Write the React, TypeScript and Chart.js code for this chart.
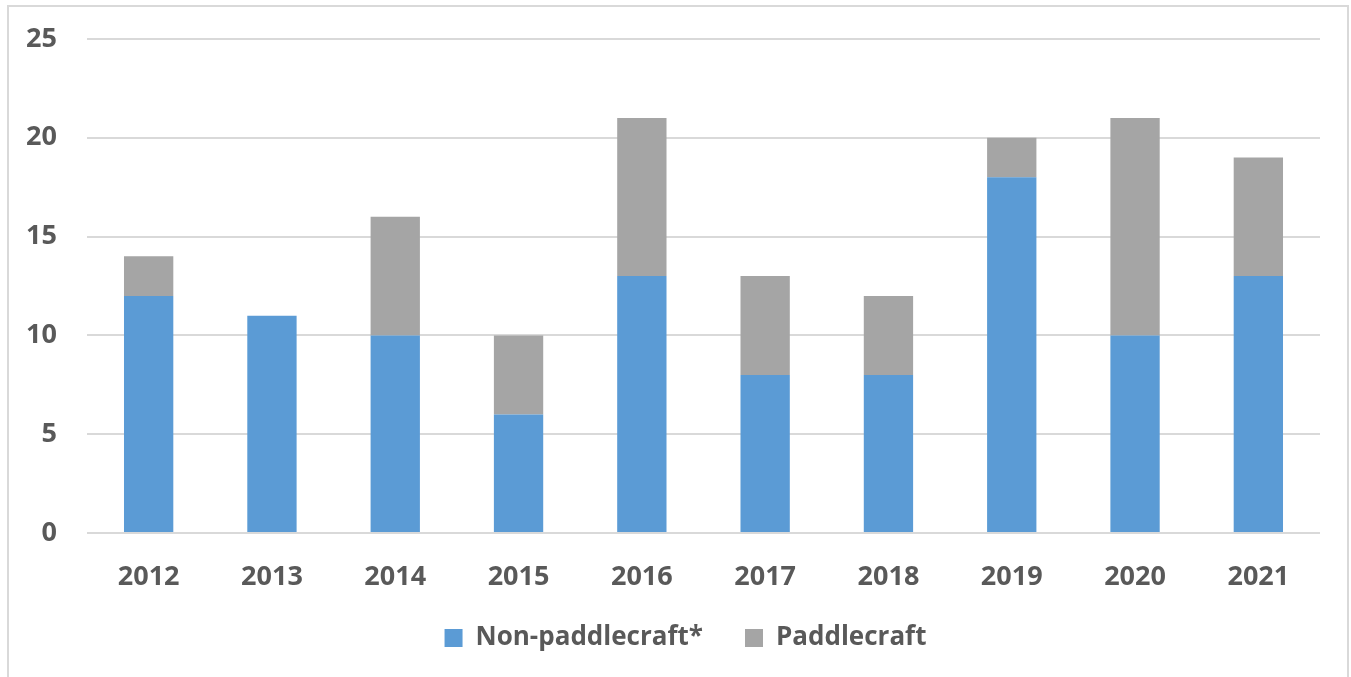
import React, { useEffect, useRef } from "react";
import { Chart, registerables } from "chart.js";

Chart.register(...registerables);

const categories = ["2012", "2013", "2014", "2015", "2016", "2017", "2018", "2019", "2020", "2021"];
const nonPaddlecraft = [12, 11, 10, 6, 13, 8, 8, 18, 10, 13];
const paddlecraft = [2, 0, 6, 4, 8, 5, 4, 2, 11, 6];
const yTicks = [0, 5, 10, 15, 20, 25];

const FONT = "'Open Sans', 'Noto Sans', sans-serif";
const TEXT = "#595959";

const legendShift = {
  id: "legendShift",
  afterLayout(chart: any) {
    const lg = chart.legend;
    if (!lg) return;
    lg.left += 21;
    lg.right += 21;
    lg.top -= 12;
    lg.bottom -= 12;
  },
};

export default function App() {
  const ref = useRef<HTMLCanvasElement | null>(null);
  useEffect(() => {
    if (!ref.current) return;
    const chart = new Chart(ref.current, {
      type: "bar",
      data: {
        labels: categories,
        datasets: [
          {
            label: "Non-paddlecraft*",
            data: nonPaddlecraft,
            backgroundColor: "#5B9BD5",
            barPercentage: 0.4,
            categoryPercentage: 1,
          },
          {
            label: "Paddlecraft",
            data: paddlecraft,
            backgroundColor: "#A5A5A5",
            barPercentage: 0.4,
            categoryPercentage: 1,
          },
        ],
      },
      plugins: [legendShift],
      options: {
        animation: false,
        responsive: false,
        layout: { padding: { top: 32, right: 27, left: 0, bottom: 0 } },
        plugins: {
          tooltip: { enabled: false },
          legend: {
            position: "bottom",
            labels: {
              color: TEXT,
              font: { family: FONT, size: 26, weight: "bold" },
              boxWidth: 18,
              boxHeight: 18,
              padding: 42,
            },
          },
        },
        scales: {
          x: {
            stacked: true,
            grid: { display: false, drawTicks: false },
            border: { display: false },
            ticks: {
              color: TEXT,
              font: { family: FONT, size: 27, weight: "bold" },
              padding: 28,
              maxRotation: 0,
            },
            afterFit: (s: any) => {
              s.height = 62;
            },
          },
          y: {
            stacked: true,
            min: 0,
            max: 25,
            afterBuildTicks: (s: any) => {
              s.ticks = yTicks.map((v) => ({ value: v }));
            },
            afterFit: (s: any) => {
              s.width = 78;
            },
            grid: {
              color: "#D9D9D9",
              lineWidth: 2,
              drawTicks: true,
              tickLength: 30,
              tickColor: "rgba(0,0,0,0)",
            },
            border: { display: false },
            ticks: {
              color: TEXT,
              font: { family: FONT, size: 27, weight: "bold" },
              padding: 0,
            },
          },
        },
      },
    });
    return () => chart.destroy();
  }, []);
  return (
    <div
      style={{
        position: "absolute",
        left: 7,
        top: 5,
        width: 1338,
        height: 670,
        borderTop: "2px solid #D9D9D9",
        borderLeft: "2px solid #D9D9D9",
        borderRight: "2px solid #D9D9D9",
        overflow: "hidden",
        background: "#fff",
      }}
    >
      <canvas ref={ref} width={1338} height={666} style={{ display: "block" }} />
    </div>
  );
}
